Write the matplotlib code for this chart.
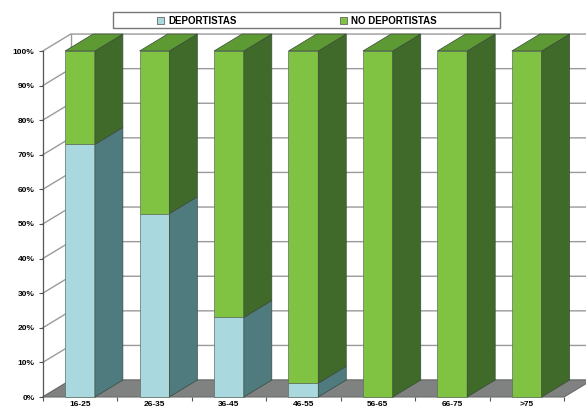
import matplotlib.pyplot as plt
from matplotlib.patches import Polygon, Rectangle

# Percentage of people who do sport, by age group
grupos = ['16-25', '26-35', '36-45', '46-55', '56-65', '66-75', '>75']
deportistas = [73, 53, 23, 4, 0, 0, 0]
no_deportistas = [27, 47, 77, 96, 100, 100, 100]
yticks = [0, 10, 20, 30, 40, 50, 60, 70, 80, 90, 100]
ytick_labels = ['%d%%' % v for v in yticks]

# colours: front face, side face, top face
c_dep = ('#a9d9df', '#4f7a7e', '#7fb4bb')
c_nodep = ('#80c342', '#3f6a29', '#5d9a33')

W, H = 586, 412
fig = plt.figure(figsize=(W / 100, H / 100), dpi=100)
# plot area in pixels: x -0.5 -> 42.75, 6.5 -> 564 ; y 0 -> 397, 100 -> 51
ax = fig.add_axes([42.75 / W, (H - 397) / H, (564 - 42.75) / W, (397 - 51) / H])
ax.set_xlim(-0.5, 6.5)
ax.set_ylim(0, 100)

bw = 0.4     # bar width
dx = 0.376   # depth offset in x (category units)
dy = 4.9     # depth offset in y (percent)
n = len(grupos)
right = 7.2

# back wall grid
for v in yticks:
    ax.plot([-0.5, -0.5 + dx, right], [v, v + dy, v + dy], color='#9a9a9a', lw=1.0,
            clip_on=False, zorder=1)
ax.plot([-0.5 + dx, -0.5 + dx], [dy, 100 + dy], color='#9a9a9a', lw=1.0, clip_on=False, zorder=1)

# floor
floor = Polygon([(-0.5, 0), (6.5, 0), (6.5 + dx, dy), (-0.5 + dx, dy)], closed=True,
                facecolor='#808282', edgecolor='#6a6a6a', lw=0.8, clip_on=False, zorder=2)
ax.add_patch(floor)


def draw_segment(x, y0, y1, cols, top):
    if y1 <= y0:
        return
    l, r = x - bw / 2, x + bw / 2
    ax.add_patch(Rectangle((l, y0), bw, y1 - y0, facecolor=cols[0], edgecolor='#5f6f60',
                           lw=0.5, clip_on=False, zorder=3))
    ax.add_patch(Polygon([(r, y0), (r + dx, y0 + dy), (r + dx, y1 + dy), (r, y1)], closed=True,
                         facecolor=cols[1], edgecolor='#3a4a3a', lw=0.5, clip_on=False, zorder=3))
    if top:
        ax.add_patch(Polygon([(l, y1), (r, y1), (r + dx, y1 + dy), (l + dx, y1 + dy)], closed=True,
                             facecolor=cols[2], edgecolor='#3a4a3a', lw=0.5, clip_on=False,
                             zorder=3))


for i in range(n):
    d = deportistas[i]
    nd = no_deportistas[i]
    draw_segment(i, 0, d, c_dep, nd == 0)
    draw_segment(i, d, d + nd, c_nodep, True)

# axes and ticks
for s in ['top', 'right', 'bottom']:
    ax.spines[s].set_visible(False)
ax.spines['left'].set_color('#555555')
ax.spines['left'].set_linewidth(0.9)
ax.set_yticks(yticks)
ax.set_yticklabels(ytick_labels, fontsize=6, fontweight='bold', family='Liberation Sans')
ax.tick_params(axis='y', length=3, width=0.8, color='#555555', pad=3)
ax.set_xticks(range(n))
ax.set_xticklabels(grupos, fontsize=6, fontweight='bold', family='Liberation Sans')
ax.set_xticks([i + 0.5 for i in range(-1, n)], minor=True)
ax.tick_params(axis='x', which='major', length=0, pad=3)
ax.tick_params(axis='x', which='minor', length=3, width=0.8, color='#555555')
ax.patch.set_visible(False)

# legend box
fig.add_artist(Rectangle((113 / W, 1 - 28 / H), 387 / W, 16 / H, transform=fig.transFigure,
                         facecolor='white', edgecolor='#777777', lw=1.0))
for px, label, col in [(157, 'DEPORTISTAS', c_dep[0]), (340, 'NO DEPORTISTAS', c_nodep[0])]:
    fig.add_artist(Rectangle((px / W, 1 - 24 / H), 7 / W, 7 / H, transform=fig.transFigure,
                             facecolor=col, edgecolor='#666666', lw=0.6))
    fig.text((px + 11) / W, 1 - 20.5 / H, label, fontsize=7, fontweight='bold',
             family='Liberation Sans', va='center', ha='left')

fig.savefig('out.png', dpi=100)
